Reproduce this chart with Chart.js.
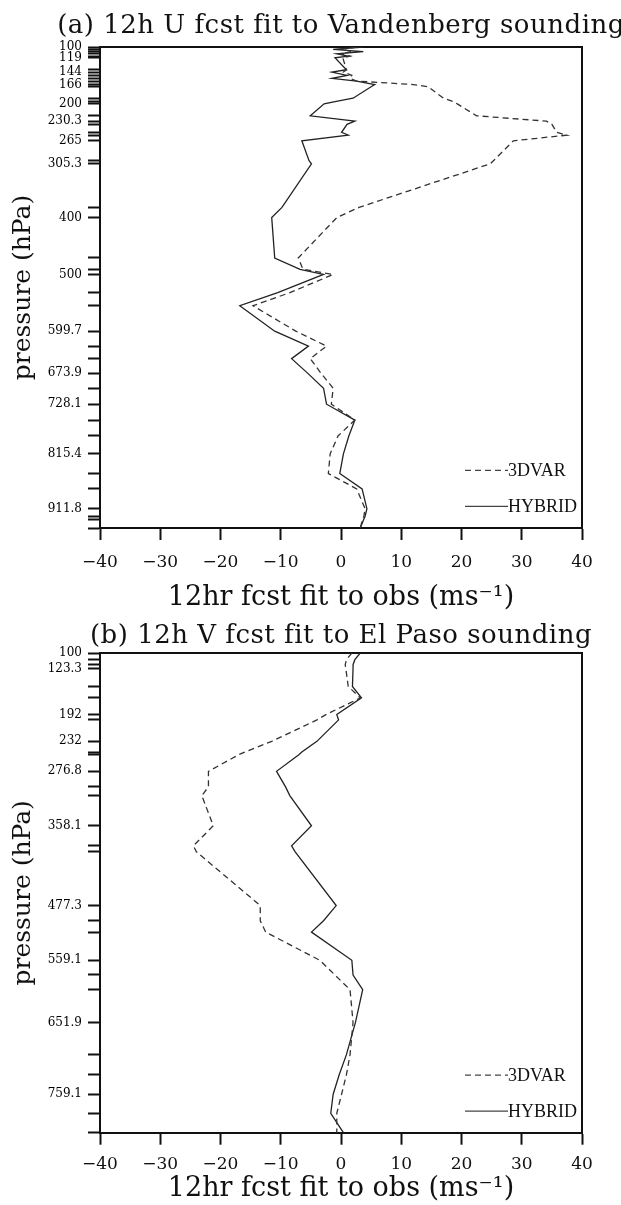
<!DOCTYPE html>
<html>
<head>
<meta charset="utf-8">
<script src="https://cdn.jsdelivr.net/npm/chart.js@4.4.1/dist/chart.umd.min.js"></script>
<style>
  html, body { margin: 0; padding: 0; background: #fff; }
  canvas { position: absolute; left: 0; display: block; }
  #chartA { top: 0; }
  #chartB { top: 618px; }
</style>
</head>
<body>
<canvas id="chartA" width="621" height="618"></canvas>
<canvas id="chartB" width="621" height="587"></canvas>
<script>
// x axis ticks (ms-1), shared by both panels
var xTicks = [-40, -30, -20, -10, 0, 10, 20, 30, 40];

// (a) U wind, Vandenberg: observation levels (hPa) and labelled levels
var levelsA = [100, 104, 108, 112, 116, 119, 140, 144, 150, 155, 160, 166, 170, 190, 196, 200,
  221, 230.3, 236, 250, 255, 265, 300, 305.3, 382, 400, 471, 491, 500, 532, 555, 599.7,
  626, 648, 673.9, 700, 728.1, 756, 784, 815.4, 850, 877, 911.8, 925, 930, 945.8];
var labelsA = [100, 119, 144, 166, 200, 230.3, 265, 305.3, 400, 500, 599.7, 673.9, 728.1, 815.4, 911.8];
var var3dA = [2.6, 0.0, 2.0, -0.2, 1.5, 0.3, 0.9, 0.4, 1.8, 1.5, 2.6, 12.0, 14.5, 17.0, 18.6, 19.3,
  22.5, 34.1, 35.0, 35.8, 37.5, 28.6, 25.3, 24.8, 3.0, -0.7, -7.1, -6.3, -1.3, -8.5, -14.6, -7.5,
  -2.4, -5.1, -3.3, -1.3, -1.6, 2.3, -0.5, -1.8, -2.1, 2.6, 4.0, 3.8, 3.6, 3.2];
var hybridA = [3.7, -1.3, 3.7, -0.7, 1.2, -1.0, 0.9, -1.5, 1.0, -1.5, 2.6, 5.6, 5.0, 2.0, -1.0, -2.8,
  -5.1, 2.3, 1.0, 0.1, 1.2, -6.5, -5.3, -4.9, -9.8, -11.5, -11.0, -6.8, -2.9, -10.5, -16.8, -11.0,
  -5.4, -8.2, -5.5, -2.9, -2.4, 2.3, 1.3, 0.4, -0.2, 3.5, 4.3, 4.0, 3.8, 3.2];

// (b) V wind, El Paso
var levelsB = [100, 110, 117.5, 123.3, 150, 167, 192, 200, 232, 248, 252, 276.8, 300, 313, 358.1,
  388, 397, 477.3, 500, 517, 559.1, 581, 603, 651.9, 700, 730, 759.1, 787.6, 816.6];
var labelsB = [100, 123.3, 192, 232, 276.8, 358.1, 477.3, 559.1, 651.9, 759.1];
var var3dB = [1.8, 0.9, 0.7, 0.8, 1.2, 3.2, -2.5, -4.0, -11.5, -16.0, -17.0, -22.0, -22.0, -23.1, -21.2,
  -24.5, -24.0, -13.4, -13.4, -12.5, -3.5, -1.0, 1.5, 2.0, 1.5, 0.9, 0.1, -0.7, -0.7];
var hybridB = [3.2, 2.3, 2.0, 2.0, 1.9, 3.4, -0.7, -0.4, -4.0, -6.5, -7.0, -10.7, -9.2, -8.5, -4.9,
  -8.2, -7.6, -0.8, -2.9, -4.9, 1.8, 2.0, 3.6, 2.4, 0.9, -0.3, -1.3, -1.7, 0.4];

var serif = 'DejaVu Serif';
var ink = '#111';

function toPoints(values, levels) {
  return values.map(function(v, i) { return { x: v, y: levels[i] }; });
}

// panel heading, centred over the plot (it is wider than the plot, so not a scale title)
var panelTitle = {
  id: 'panelTitle',
  afterDraw: function(chart, args, opts) {
    var ctx = chart.ctx, area = chart.chartArea;
    ctx.save();
    ctx.font = '26px "' + serif + '"';
    ctx.letterSpacing = '0.5px';
    ctx.fillStyle = ink;
    ctx.textAlign = 'center';
    ctx.textBaseline = 'middle';
    ctx.fillText(opts.text, (area.left + area.right) / 2, opts.y);
    ctx.restore();
  }
};

// little legend in the lower right corner of the plot
var cornerLegend = {
  id: 'cornerLegend',
  afterDatasetsDraw: function(chart) {
    var ctx = chart.ctx, area = chart.chartArea;
    var rows = [57.6, 21.6];
    ctx.save();
    ctx.font = '18px "Liberation Serif"';
    ctx.textBaseline = 'middle';
    ctx.textAlign = 'left';
    chart.data.datasets.forEach(function(ds, i) {
      var y = area.bottom - rows[i];
      ctx.strokeStyle = '#444';
      ctx.lineWidth = 1.2;
      ctx.setLineDash(ds.borderDash || []);
      ctx.beginPath();
      ctx.moveTo(area.right - 117, y);
      ctx.lineTo(area.right - 74, y);
      ctx.stroke();
      ctx.setLineDash([]);
      ctx.fillStyle = ink;
      ctx.fillText(ds.label, area.right - 74, y + 1);
    });
    ctx.restore();
  }
};

function drawPanel(id, p) {
  var bottomLevel = p.levels[p.levels.length - 1];
  return new Chart(document.getElementById(id), {
    type: 'scatter',
    data: {
      datasets: [{
        label: '3DVAR',
        data: toPoints(p.v3d, p.levels),
        showLine: true,
        borderColor: '#333',
        borderWidth: 1.3,
        borderDash: [6, 4],
        pointRadius: 0,
        tension: 0,
        xAxisID: 'x',
        yAxisID: 'y'
      }, {
        label: 'HYBRID',
        data: toPoints(p.hyb, p.levels),
        showLine: true,
        borderColor: '#222',
        borderWidth: 1.3,
        pointRadius: 0,
        tension: 0,
        xAxisID: 'x',
        yAxisID: 'y'
      }]
    },
    options: {
      responsive: false,
      animation: false,
      layout: { padding: 0 },
      plugins: {
        legend: { display: false },
        tooltip: { enabled: false },
        panelTitle: { text: p.title, y: p.titleY }
      },
      scales: {
        x: {
          type: 'linear', min: -40, max: 40,
          afterBuildTicks: function(s) { s.ticks = xTicks.map(function(v) { return { value: v }; }); },
          afterFit: function(s) { s.height = p.bottomH; },
          ticks: {
            padding: p.tickPad, color: ink, font: { family: serif, size: 17 },
            callback: function(v) { return v < 0 ? '\u2212' + (-v) : String(v); }
          },
          grid: { drawOnChartArea: false, tickLength: 12, tickWidth: 2, tickColor: ink },
          border: { color: ink, width: 2 },
          title: {
            display: true, text: '12hr fcst fit to obs (ms\u207B\u00B9)', color: ink,
            font: { family: serif, size: 27 }, padding: { top: 0, bottom: p.xTitlePad }
          }
        },
        x2: {
          type: 'linear', position: 'top', min: -40, max: 40,
          afterFit: function(s) { s.height = p.topH; },
          ticks: { display: false },
          grid: { drawOnChartArea: false, drawTicks: false },
          border: { color: ink, width: 2 }
        },
        y: {
          type: 'linear', reverse: true, min: 100, max: bottomLevel,
          afterBuildTicks: function(s) { s.ticks = p.levels.map(function(v) { return { value: v }; }); },
          afterFit: function(s) { s.width = 100; },
          ticks: {
            autoSkip: false, padding: 6, color: '#000', font: { family: serif, size: 12 },
            callback: function(v) { return p.labels.indexOf(v) >= 0 ? String(v) : ''; }
          },
          grid: { drawOnChartArea: false, tickLength: 12, tickWidth: 2, tickColor: ink },
          border: { color: ink, width: 2 },
          title: {
            display: true, text: 'pressure (hPa)', color: ink,
            font: { family: serif, size: 25 }, padding: { top: 8, bottom: 0 }
          }
        },
        y2: {
          type: 'linear', position: 'right', min: 0, max: 1,
          afterFit: function(s) { s.width = 39; },
          ticks: { display: false },
          grid: { drawOnChartArea: false, drawTicks: false },
          border: { color: ink, width: 2 }
        }
      }
    },
    plugins: [cornerLegend, panelTitle]
  });
}

drawPanel('chartA', {
  title: '(a) 12h U fcst fit to Vandenberg sounding', titleY: 26,
  levels: levelsA, labels: labelsA, v3d: var3dA, hyb: hybridA,
  topH: 47, bottomH: 90, tickPad: 12, xTitlePad: 3.6
});
drawPanel('chartB', {
  title: '(b) 12h V fcst fit to El Paso sounding', titleY: 18,
  levels: levelsB, labels: labelsB, v3d: var3dB, hyb: hybridB,
  topH: 35, bottomH: 72.3, tickPad: 9.7, xTitlePad: 0
});
</script>
</body>
</html>
